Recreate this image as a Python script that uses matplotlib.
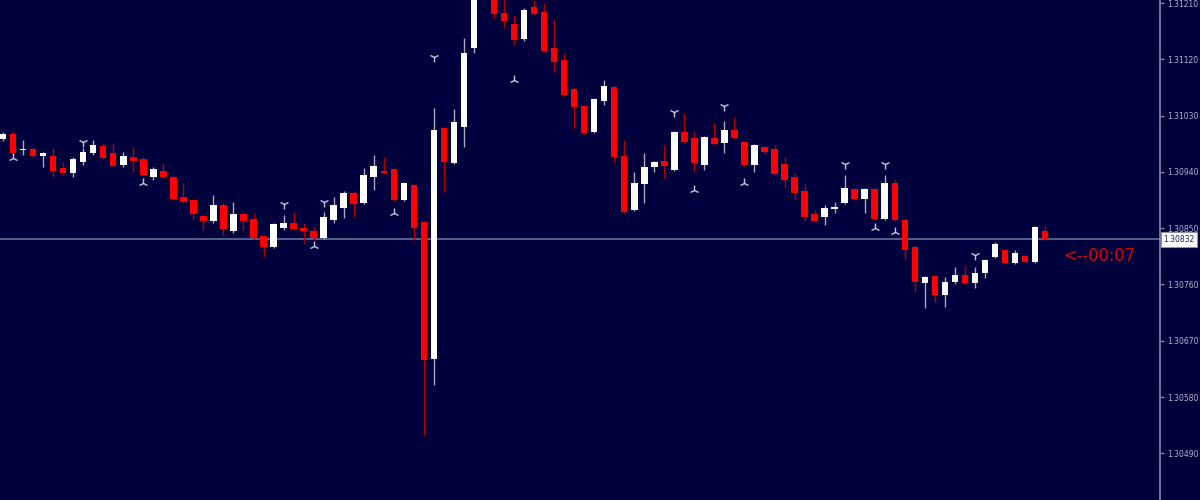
import matplotlib
matplotlib.use("Agg")
import matplotlib.pyplot as plt
import numpy as np

# ---- data (OHLC, one candle per bar) ----
opens = [1.30993, 1.31001, 1.30975, 1.30977, 1.30965, 1.30965, 1.30946, 1.30938, 1.30956, 1.30970,
         1.30981, 1.30970, 1.30951, 1.30964, 1.30961, 1.30932, 1.30941, 1.30932, 1.30900, 1.30895,
         1.30870, 1.30862, 1.30887, 1.30846, 1.30873, 1.30865, 1.30838, 1.30820, 1.30850, 1.30858,
         1.30850, 1.30846, 1.30834, 1.30863, 1.30882, 1.30906, 1.30890, 1.30932, 1.30941, 1.30945,
         1.30895, 1.30919, 1.30860, 1.30641, 1.31010, 1.30954, 1.31012, 1.31138, 1.31263, 1.31223,
         1.31194, 1.31176, 1.31152, 1.31204, 1.31196, 1.31138, 1.31119, 1.31073, 1.31045, 1.31004,
         1.31053, 1.31076, 1.30965, 1.30879, 1.30921, 1.30948, 1.30957, 1.30943, 1.31004, 1.30994,
         1.30951, 1.30994, 1.30986, 1.31007, 1.30988, 1.30951, 1.30980, 1.30977, 1.30953, 1.30932,
         1.30910, 1.30873, 1.30868, 1.30881, 1.30890, 1.30913, 1.30897, 1.30913, 1.30865, 1.30922,
         1.30863, 1.30820, 1.30762, 1.30774, 1.30743, 1.30764, 1.30775, 1.30762, 1.30778, 1.30804,
         1.30815, 1.30794, 1.30806, 1.30796, 1.30846]
highs = [1.31004, 1.31005, 1.30991, 1.30980, 1.30972, 1.30978, 1.30956, 1.30964, 1.30978, 1.30991,
         1.30986, 1.30986, 1.30972, 1.30980, 1.30964, 1.30948, 1.30954, 1.30935, 1.30922, 1.30897,
         1.30871, 1.30903, 1.30890, 1.30892, 1.30876, 1.30874, 1.30839, 1.30858, 1.30871, 1.30876,
         1.30858, 1.30852, 1.30876, 1.30900, 1.30910, 1.30910, 1.30946, 1.30967, 1.30964, 1.30946,
         1.30924, 1.30921, 1.30862, 1.31042, 1.31012, 1.31041, 1.31154, 1.31247, 1.31287, 1.31234,
         1.31218, 1.31191, 1.31202, 1.31215, 1.31210, 1.31184, 1.31130, 1.31076, 1.31047, 1.31058,
         1.31087, 1.31077, 1.30991, 1.30940, 1.30970, 1.30957, 1.30983, 1.31005, 1.31034, 1.31004,
         1.30997, 1.31018, 1.31021, 1.31028, 1.30989, 1.30985, 1.30981, 1.30983, 1.30964, 1.30938,
         1.30922, 1.30879, 1.30887, 1.30892, 1.30935, 1.30914, 1.30914, 1.30914, 1.30935, 1.30929,
         1.30865, 1.30822, 1.30774, 1.30775, 1.30772, 1.30788, 1.30791, 1.30788, 1.30801, 1.30828,
         1.30817, 1.30815, 1.30807, 1.30854, 1.30855]
lows = [1.30989, 1.30965, 1.30967, 1.30962, 1.30948, 1.30932, 1.30935, 1.30932, 1.30951, 1.30967,
        1.30961, 1.30948, 1.30948, 1.30940, 1.30933, 1.30927, 1.30930, 1.30895, 1.30890, 1.30863,
        1.30847, 1.30858, 1.30839, 1.30842, 1.30847, 1.30833, 1.30804, 1.30818, 1.30847, 1.30847,
        1.30826, 1.30831, 1.30833, 1.30858, 1.30866, 1.30868, 1.30889, 1.30911, 1.30937, 1.30894,
        1.30894, 1.30831, 1.30519, 1.30599, 1.30908, 1.30953, 1.30980, 1.31130, 1.31228, 1.31186,
        1.31170, 1.31143, 1.31149, 1.31191, 1.31132, 1.31100, 1.31061, 1.31010, 1.31001, 1.31002,
        1.31047, 1.30956, 1.30874, 1.30878, 1.30890, 1.30940, 1.30930, 1.30941, 1.30986, 1.30940,
        1.30943, 1.30983, 1.30970, 1.30993, 1.30949, 1.30940, 1.30969, 1.30935, 1.30914, 1.30895,
        1.30862, 1.30860, 1.30855, 1.30874, 1.30889, 1.30895, 1.30874, 1.30863, 1.30863, 1.30862,
        1.30799, 1.30748, 1.30722, 1.30732, 1.30724, 1.30761, 1.30761, 1.30754, 1.30770, 1.30802,
        1.30793, 1.30793, 1.30794, 1.30794, 1.30831]
closes = [1.31001, 1.30970, 1.30977, 1.30965, 1.30970, 1.30941, 1.30938, 1.30961, 1.30972, 1.30983,
          1.30962, 1.30949, 1.30965, 1.30957, 1.30935, 1.30945, 1.30932, 1.30897, 1.30892, 1.30873,
          1.30862, 1.30887, 1.30849, 1.30873, 1.30862, 1.30834, 1.30820, 1.30857, 1.30858, 1.30849,
          1.30846, 1.30834, 1.30868, 1.30887, 1.30906, 1.30889, 1.30935, 1.30949, 1.30938, 1.30895,
          1.30922, 1.30850, 1.30639, 1.31007, 1.30956, 1.31020, 1.31130, 1.31231, 1.31234, 1.31192,
          1.31181, 1.31151, 1.31199, 1.31192, 1.31133, 1.31116, 1.31063, 1.31044, 1.31002, 1.31057,
          1.31077, 1.30964, 1.30876, 1.30922, 1.30948, 1.30956, 1.30949, 1.31004, 1.30988, 1.30954,
          1.30996, 1.30985, 1.31007, 1.30994, 1.30951, 1.30983, 1.30972, 1.30937, 1.30927, 1.30906,
          1.30868, 1.30862, 1.30882, 1.30884, 1.30914, 1.30897, 1.30913, 1.30865, 1.30922, 1.30863,
          1.30815, 1.30764, 1.30772, 1.30743, 1.30764, 1.30775, 1.30762, 1.30778, 1.30799, 1.30825,
          1.30794, 1.30810, 1.30796, 1.30852, 1.30832]

# fractal markers (bar index, price level)
up_fractal_idx = [8, 28, 32, 43, 67, 72, 84, 88, 97]
up_fractal_px = [1.30988, 1.30889, 1.30892, 1.31124, 1.31036, 1.31045, 1.30953, 1.30953, 1.30807]
dn_fractal_idx = [1, 14, 31, 39, 51, 69, 74, 87, 89]
dn_fractal_px = [1.30962, 1.30922, 1.30822, 1.30874, 1.31087, 1.30911, 1.30922, 1.30850, 1.30844]

price_ticks = [1.31210, 1.31120, 1.31030, 1.30940, 1.30850, 1.30760, 1.30670, 1.30580, 1.30490]
timer_text = "<--00:07"

# ---- style ----
BG = "#00003c"
UP_BODY = "#ffffff"
DN_BODY = "#ff0000"
UP_WICK = "#a8a8c0"
DN_WICK = "#b00000"
AXIS_C = "#8888aa"

o = np.array(opens); h = np.array(highs); l = np.array(lows); c = np.array(closes)
idx = np.arange(len(o))
bull = c >= o

fig = plt.figure(figsize=(12, 5), dpi=100, facecolor=BG)
ax = fig.add_axes([0, 0, 1160 / 1200, 1])
ax.set_facecolor(BG)

# wicks
ax.vlines(idx[bull], l[bull], h[bull], color=UP_WICK, linewidth=1.0, zorder=2)
ax.vlines(idx[~bull], l[~bull], h[~bull], color=DN_WICK, linewidth=1.0, zorder=2)

# bodies
bw = 0.65
bottoms = np.minimum(o, c)
heights = np.maximum(np.abs(c - o), 0.00002)
ax.bar(idx[bull], heights[bull], bottom=bottoms[bull], width=bw, color=UP_BODY, linewidth=0, zorder=3)
ax.bar(idx[~bull], heights[~bull], bottom=bottoms[~bull], width=bw, color=DN_BODY, linewidth=0, zorder=3)

# current price line
ax.axhline(c[-1], color="#5d6895", linewidth=1.3, zorder=1)

# fractals
ax.plot(up_fractal_idx, up_fractal_px, linestyle="none", marker="1", markersize=7,
        markeredgewidth=1.0, color="#c4c4dc", zorder=4)
ax.plot(dn_fractal_idx, dn_fractal_px, linestyle="none", marker="2", markersize=7,
        markeredgewidth=1.0, color="#c4c4dc", zorder=4)

ax.set_xlim(-0.3, 115.47)
ax.set_ylim(1.304155, 1.312148)

# axes styling
for s in ["left", "top", "bottom"]:
    ax.spines[s].set_visible(False)
ax.spines["right"].set_color(AXIS_C)
ax.spines["right"].set_linewidth(1.2)
ax.set_xticks([])
ax.yaxis.tick_right()
ax.set_yticks(price_ticks)
ax.set_yticklabels([f"{p:.5f}" for p in price_ticks])
ax.tick_params(axis="y", colors=AXIS_C, labelcolor="#b4b4cc", labelsize=5.5,
               length=3, width=1, pad=2, direction="out")

# price box on the axis
ax.annotate(f"{c[-1]:.5f}", xy=(1, c[-1]), xycoords=("axes fraction", "data"),
            xytext=(2.5, 0), textcoords="offset points", ha="left", va="center",
            fontsize=5.5, color="#1a1a50",
            bbox=dict(boxstyle="square,pad=0.35", facecolor="#ffffff", edgecolor="#9090b0", linewidth=0.8),
            annotation_clip=False, zorder=6)

# countdown timer text
ax.annotate(timer_text, xy=(idx[-1], c[-1]), xytext=(13, -12), textcoords="offset points",
            ha="left", va="center", fontsize=13, fontstretch="condensed", color="#d40a0a",
            family=["DejaVu Sans"], zorder=6)

fig.savefig("out.png", dpi=100, facecolor=BG)
